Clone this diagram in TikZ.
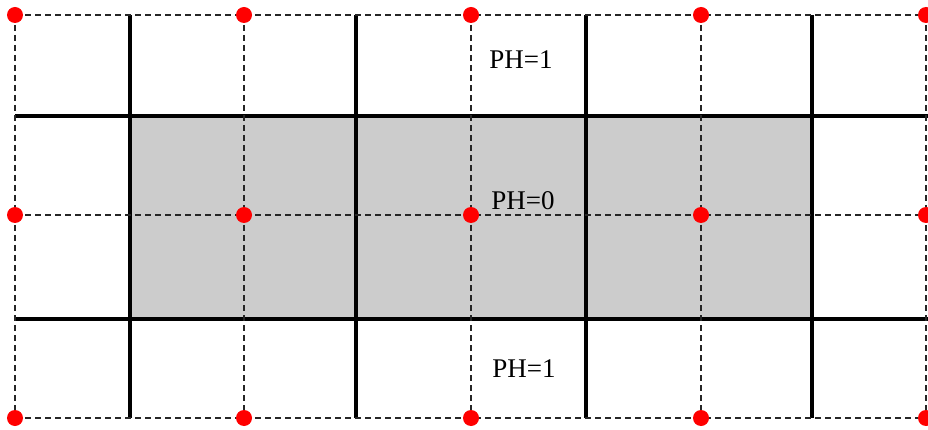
\documentclass[tikz,border=0pt]{standalone}
\usepackage{fontspec}
\setmainfont{Liberation Serif}
\begin{document}
\begin{tikzpicture}[x=1pt,y=-1pt,
  thickline/.style={line width=3.2pt,black},
  gridline/.style={line width=1.1pt,black!85,dash pattern=on 6pt off 4pt},
  dot/.style={circle,fill=red,inner sep=0pt,minimum size=16pt},
  lbl/.style={font=\fontsize{27}{30}\selectfont,inner sep=0pt}]
\useasboundingbox (0,0) rectangle (928,430);
\fill[white] (0,0) rectangle (928,430);
% gray region
\fill[black!20] (130,116) rectangle (812,319);
% thick lines
\foreach \x [count=\i] in {130,356,586,812}{
  \coordinate (vt\i) at (\x,15);
  \coordinate (vb\i) at (\x,418);
  \draw[thickline] (vt\i) -- (vb\i);
}
\foreach \y [count=\i] in {116,319}{
  \coordinate (hl\i) at (15,\y);
  \coordinate (hr\i) at (928,\y);
  \draw[thickline] (hl\i) -- (hr\i);
}
% dots
\foreach \x [count=\i] in {15,244,471,701,926}{
  \foreach \y [count=\j] in {15,215,418}{
    \coordinate (p\i\j) at (\x,\y);
  }
}
% dashed grid
\foreach \i in {1,...,5}{
  \draw[gridline] (p\i1) -- (p\i3);
}
\foreach \j in {1,2,3}{
  \draw[gridline] (p1\j) -- (p5\j);
}
\foreach \i in {1,...,5}{
  \foreach \j in {1,2,3}{
    \node[dot] (d\i\j) at (p\i\j) {};
  }
}
% labels
\node[lbl] (t1) at (521,60) {PH=1};
\node[lbl] (t2) at (523,201) {PH=0};
\node[lbl] (t3) at (524,369) {PH=1};
\end{tikzpicture}
\end{document}
